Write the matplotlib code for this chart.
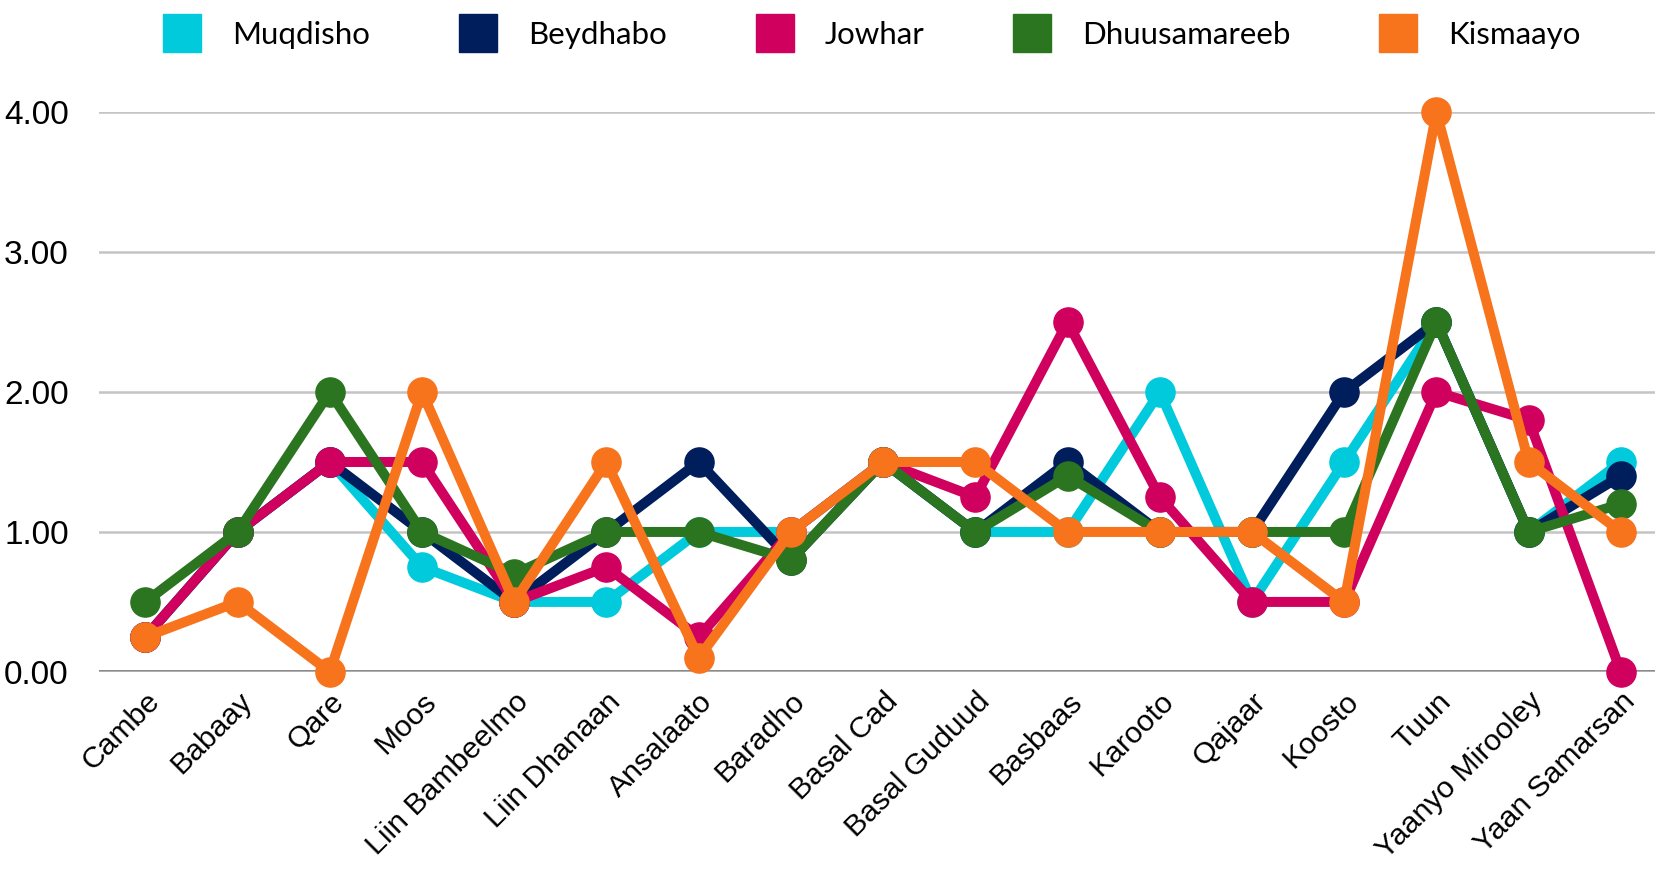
import matplotlib.pyplot as plt
from matplotlib.lines import Line2D

categories = ["Cambe", "Babaay", "Qare", "Moos", "Liin Bambeelmo", "Liin Dhanaan",
              "Ansalaato", "Baradho", "Basal Cad", "Basal Guduud", "Basbaas", "Karooto",
              "Qajaar", "Koosto", "Tuun", "Yaanyo Mirooley", "Yaan Samarsan"]

muqdisho     = [0.25, 1.0, 1.5, 0.75, 0.5, 0.5, 1.0, 1.0, 1.5, 1.0, 1.0, 2.0, 0.5, 1.5, 2.5, 1.0, 1.5]
beydhabo     = [0.25, 1.0, 1.5, 1.0, 0.5, 1.0, 1.5, 0.8, 1.5, 1.0, 1.5, 1.0, 1.0, 2.0, 2.5, 1.0, 1.4]
jowhar       = [0.25, 1.0, 1.5, 1.5, 0.5, 0.75, 0.25, 1.0, 1.5, 1.25, 2.5, 1.25, 0.5, 0.5, 2.0, 1.8, 0.0]
dhuusamareeb = [0.5, 1.0, 2.0, 1.0, 0.7, 1.0, 1.0, 0.8, 1.5, 1.0, 1.4, 1.0, 1.0, 1.0, 2.5, 1.0, 1.2]
kismaayo     = [0.25, 0.5, 0.0, 2.0, 0.5, 1.5, 0.1, 1.0, 1.5, 1.5, 1.0, 1.0, 1.0, 0.5, 4.0, 1.5, 1.0]

series = [("Muqdisho", muqdisho, "#00CADB"),
          ("Beydhabo", beydhabo, "#001D5C"),
          ("Jowhar", jowhar, "#D0005F"),
          ("Dhuusamareeb", dhuusamareeb, "#2B7420"),
          ("Kismaayo", kismaayo, "#F7731C")]

plt.rcParams['font.family'] = ['Liberation Sans', 'DejaVu Sans']

fig = plt.figure(figsize=(16.55, 8.76), dpi=100)
ax = fig.add_axes([0.06, 0.233, 0.94, 0.639])

x = list(range(len(categories)))
for name, vals, col in series:
    ax.plot(x, vals, color=col, lw=7.2, marker='o', markersize=21,
            solid_joinstyle='round', clip_on=False, zorder=3)

ax.set_ylim(0, 4)
ax.set_xlim(-0.5, 16.37)
ax.set_yticks([0, 1, 2, 3, 4])
ax.set_yticklabels(["0.00", "1.00", "2.00", "3.00", "4.00"], fontsize=24)
ax.set_xticks(x)
ax.set_xticklabels(categories, rotation=45, ha='right', rotation_mode='anchor', fontsize=21.7)
ax.tick_params(axis='y', length=0, pad=22)
ax.tick_params(axis='x', length=0, pad=11)

ax.grid(axis='y', color='#c4c4c4', lw=1.8, zorder=0)
ax.axhline(0, color='#707070', lw=2.6, zorder=1)
for s in ax.spines.values():
    s.set_visible(False)

handles = [Line2D([], [], ls='none', marker='s', markersize=27, color=c) for _, _, c in series]
fig.legend(handles, [n for n, _, _ in series], loc='center', bbox_to_anchor=(0.527, 0.96),
           ncol=5, frameon=False, handlelength=1.2, handletextpad=1.0,
           columnspacing=2.85, prop={'family': 'Lato', 'size': 22.5})

fig.savefig("out.png", dpi=100)
